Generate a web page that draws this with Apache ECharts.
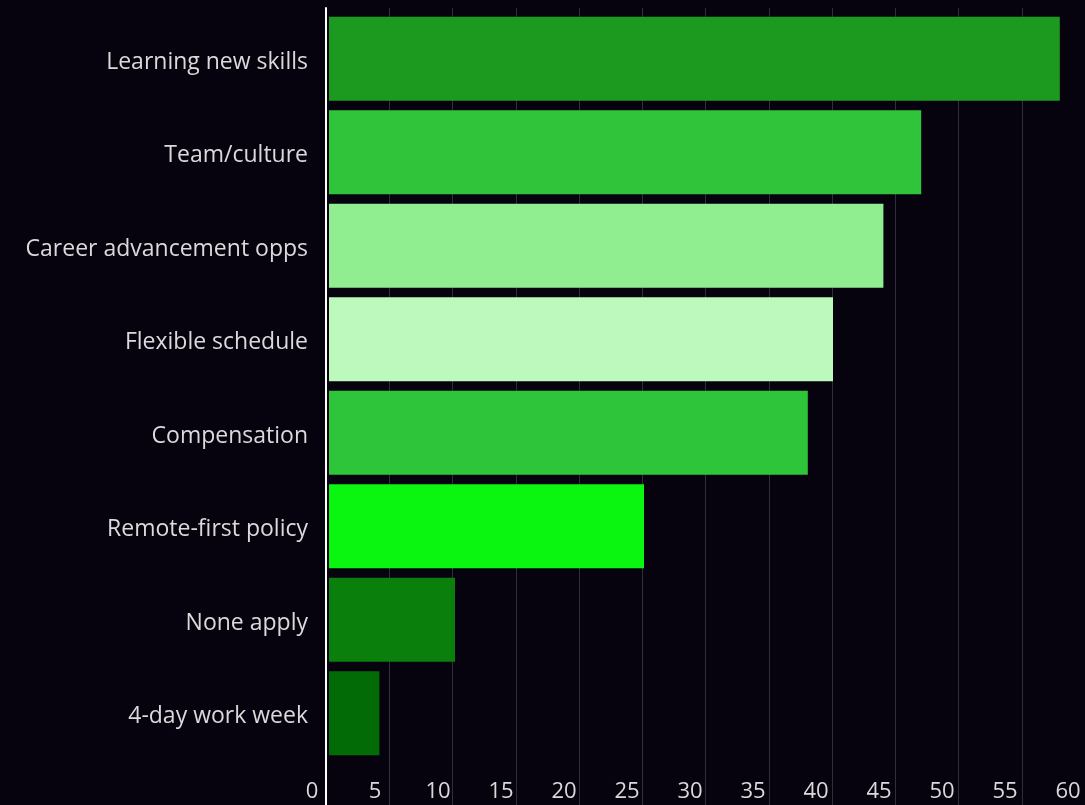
<!DOCTYPE html>
<html>
<head>
<meta charset="utf-8">
<title>What matters most</title>
<script src="https://cdn.jsdelivr.net/npm/echarts@6/dist/echarts.min.js"></script>
<style>
  html, body { margin: 0; padding: 0; background: #06030f; }
  #chart { width: 1085px; height: 805px; }
</style>
</head>
<body>
<div id="chart"></div>
<script>
// Survey answers, top to bottom
const categories = [
  'Learning new skills',
  'Team/culture',
  'Career advancement opps',
  'Flexible schedule',
  'Compensation',
  'Remote-first policy',
  'None apply',
  '4-day work week'
];
const values = [58, 47, 44, 40, 38, 25, 10, 4];
const barColors = ['#1c9a1f', '#30c43a', '#90ee90', '#bdf8bd', '#2fc53a', '#0af510', '#0a7f0c', '#036b06'];
const xTicks = { min: 0, max: 60, interval: 5 };

const BG = '#06030f';
const TEXT = '#dadada';
const FONT = '"Open Sans", "Noto Sans", sans-serif';

const chart = echarts.init(document.getElementById('chart'), null, { renderer: 'canvas' });

chart.setOption({
  backgroundColor: BG,
  animation: false,
  grid: [
    // bars and axis labels
    { left: 329, right: -4, top: 12, bottom: 45 },
    // full-height guide lines and the white baseline
    { left: 326, right: -1, top: 8, bottom: 0 }
  ],
  xAxis: [
    {
      gridIndex: 0,
      type: 'value',
      min: xTicks.min, max: xTicks.max, interval: xTicks.interval,
      axisLine: { show: false },
      axisTick: { show: false },
      splitLine: { show: false },
      axisLabel: {
        color: TEXT, fontFamily: FONT, fontSize: 22,
        margin: 21, padding: [0, 34, 0, 0]
      }
    },
    {
      gridIndex: 1,
      type: 'value',
      min: xTicks.min, max: xTicks.max, interval: xTicks.interval,
      axisLine: { show: false },
      axisTick: { show: false },
      axisLabel: { show: false },
      splitLine: { show: true, lineStyle: { color: 'rgba(200,200,215,0.22)', width: 1 } }
    }
  ],
  yAxis: [
    {
      gridIndex: 0,
      type: 'category',
      inverse: true,
      data: categories,
      axisLine: { show: false },
      axisTick: { show: false },
      axisLabel: {
        margin: 21,
        formatter: '{t|{value}}',
        rich: {
          t: {
            color: TEXT, fontFamily: FONT, fontSize: 23,
            padding: [7, 0, 0, 0]
          }
        }
      }
    },
    {
      gridIndex: 1,
      type: 'value',
      min: 0, max: 1,
      z: 5,
      axisLine: { show: true, lineStyle: { color: '#ffffff', width: 2 } },
      axisTick: { show: false },
      axisLabel: { show: false },
      splitLine: { show: false }
    }
  ],
  series: [
    {
      type: 'bar',
      xAxisIndex: 0,
      yAxisIndex: 0,
      barCategoryGap: '10%',
      data: values.map((v, i) => ({
        value: v,
        itemStyle: { color: barColors[i] }
      }))
    }
  ]
});
</script>
</body>
</html>
